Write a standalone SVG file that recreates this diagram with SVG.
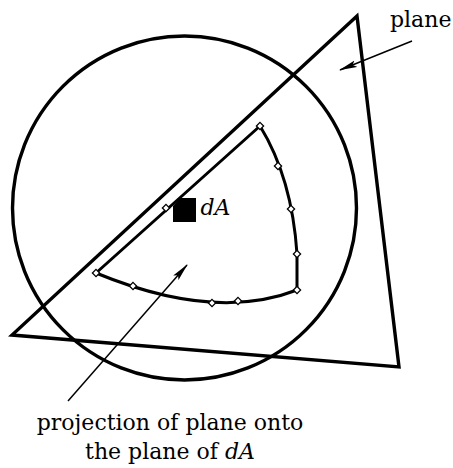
<svg xmlns="http://www.w3.org/2000/svg" width="453" height="468" viewBox="0 0 453 468">
  <style>
    .thick { fill: none; stroke: #000; stroke-width: 3.4; stroke-linejoin: miter; stroke-miterlimit: 10; }
    .proj { fill: none; stroke: #000; stroke-width: 3; stroke-linejoin: round; }
    .arrow { fill: none; stroke: #000; stroke-width: 1.5; }
    .lbl { font-family: "DejaVu Serif", "Liberation Serif", serif; font-size: 22px; fill: #000; }
    .it { font-style: italic; }
  </style>
  <defs>
    <marker id="ah" markerUnits="userSpaceOnUse" viewBox="0 0 18 8" refX="17" refY="4" markerWidth="18" markerHeight="8" orient="auto">
      <path d="M0,0.5 L18,4 L0,7.5 L3.5,4 z" fill="#000"/>
    </marker>
    <path id="dm" d="M0,-3.6 L3.6,0 L0,3.6 L-3.6,0 z" fill="#fff" stroke="#000" stroke-width="1.3"/>
  </defs>

  <g id="sphere">
    <circle class="thick" cx="184.5" cy="208" r="172"/>
  </g>

  <g id="plane">
    <polygon class="thick" points="357,16 12,335 399,367"/>
  </g>

  <g id="projection">
    <path class="proj" d="M96,273 L260,126 Q292,178 297,254 L297,290 Q215,322 96,273"/>
    <use href="#dm" x="260" y="126"/>
    <use href="#dm" x="278" y="166"/>
    <use href="#dm" x="291" y="209"/>
    <use href="#dm" x="297" y="254"/>
    <use href="#dm" x="297" y="290"/>
    <use href="#dm" x="238" y="301"/>
    <use href="#dm" x="212" y="303"/>
    <use href="#dm" x="133" y="286"/>
    <use href="#dm" x="96" y="273"/>
    <use href="#dm" x="166" y="208"/>
  </g>

  <g id="dA">
    <polygon points="180,198 196,198 196,222 173,222 173,206" fill="#000"/>
    <text class="lbl it" x="200.5" y="214.5">dA</text>
  </g>

  <g id="connectors">
    <line class="arrow" x1="412" y1="41" x2="340" y2="70" marker-end="url(#ah)"/>
    <line class="arrow" x1="68" y1="401" x2="187" y2="265" marker-end="url(#ah)"/>
  </g>

  <g id="labels">
    <text class="lbl" x="390" y="27">plane</text>
    <text class="lbl" x="170" y="430" text-anchor="middle">projection of plane onto</text>
    <text class="lbl" x="170" y="459" text-anchor="middle">the plane of <tspan class="it">dA</tspan></text>
  </g>
</svg>
